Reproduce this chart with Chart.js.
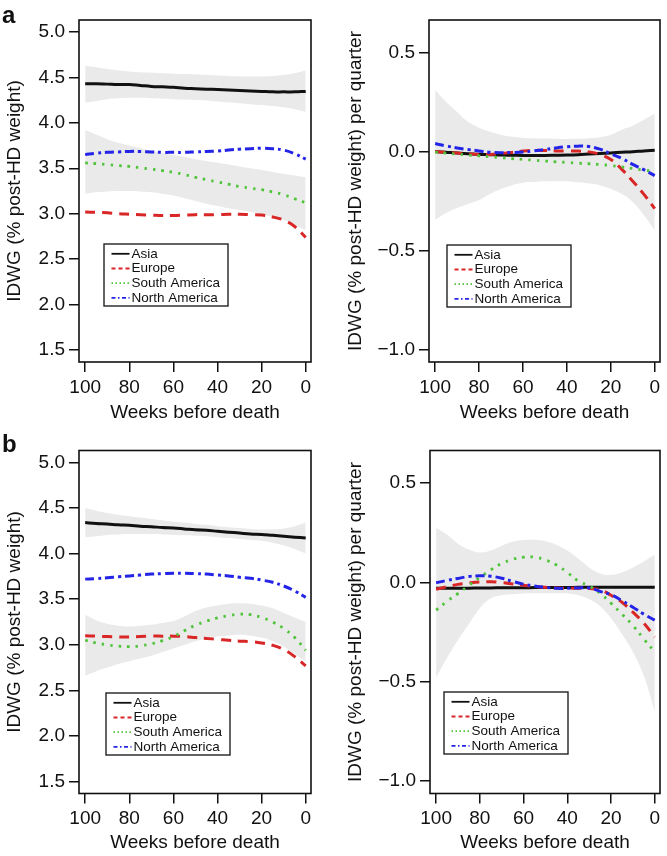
<!DOCTYPE html>
<html>
<head>
<meta charset="utf-8">
<script src="https://cdn.jsdelivr.net/npm/chart.js@4.4.1/dist/chart.umd.min.js"></script>
<style>
  body { margin: 0; background: #fff; }
  #fig { position: relative; width: 667px; height: 856px; font-family: "Liberation Sans", Arial, sans-serif; }
  #fig canvas { position: absolute; }
  .tag { position: absolute; font-weight: bold; font-size: 24px; line-height: 24px; color: #111; }
</style>
</head>
<body>
<div id="fig">
  <canvas id="aLeft" width="334" height="428" style="left:0;top:0"></canvas>
  <canvas id="aRight" width="333" height="428" style="left:334px;top:0"></canvas>
  <canvas id="bLeft" width="334" height="428" style="left:0;top:428px"></canvas>
  <canvas id="bRight" width="333" height="428" style="left:334px;top:428px"></canvas>
  <div class="tag" style="left:2px;top:3px">a</div>
  <div class="tag" style="left:2px;top:432px">b</div>
</div>
<script>
// weeks before death (x), every 5 weeks
const weeks = [100, 95, 90, 85, 80, 75, 70, 65, 60, 55, 50, 45, 40, 35, 30, 25, 20, 15, 10, 5, 0];
const xTicks = [100, 80, 60, 40, 20, 0];
const levelTicks = [1.5, 2.0, 2.5, 3.0, 3.5, 4.0, 4.5, 5.0];
const slopeTicks = [-1.0, -0.5, 0.0, 0.5];
const regions = ['Asia', 'Europe', 'South America', 'North America'];

// panel a, left: IDWG level
const aLevelAsia = [4.43, 4.43, 4.425, 4.42, 4.42, 4.41, 4.40, 4.395, 4.39, 4.38, 4.375, 4.37, 4.365, 4.36, 4.355, 4.35, 4.345, 4.34, 4.34, 4.34, 4.345];
const aLevelEurope = [3.02, 3.015, 3.01, 3.0, 2.995, 2.99, 2.985, 2.98, 2.98, 2.985, 2.99, 2.99, 2.99, 2.995, 2.995, 2.99, 2.985, 2.965, 2.93, 2.86, 2.74];
const aLevelSouth = [3.56, 3.55, 3.54, 3.53, 3.52, 3.505, 3.49, 3.475, 3.455, 3.43, 3.40, 3.375, 3.35, 3.325, 3.30, 3.28, 3.265, 3.24, 3.21, 3.165, 3.12];
const aLevelNorth = [3.65, 3.665, 3.675, 3.68, 3.685, 3.685, 3.68, 3.675, 3.675, 3.675, 3.68, 3.685, 3.69, 3.70, 3.71, 3.715, 3.72, 3.715, 3.70, 3.66, 3.60];
const aLevelAsiaHi = [4.63, 4.61, 4.59, 4.575, 4.565, 4.555, 4.55, 4.545, 4.54, 4.535, 4.53, 4.525, 4.52, 4.515, 4.51, 4.51, 4.51, 4.515, 4.525, 4.545, 4.575];
const aLevelAsiaLo = [4.22, 4.24, 4.26, 4.27, 4.275, 4.275, 4.27, 4.265, 4.26, 4.255, 4.25, 4.245, 4.235, 4.225, 4.215, 4.205, 4.195, 4.185, 4.17, 4.15, 4.12];
const aLevelSouthHi = [3.92, 3.87, 3.82, 3.78, 3.75, 3.72, 3.69, 3.665, 3.645, 3.625, 3.60, 3.58, 3.56, 3.54, 3.52, 3.50, 3.48, 3.46, 3.44, 3.42, 3.40];
const aLevelSouthLo = [3.22, 3.235, 3.245, 3.25, 3.25, 3.245, 3.235, 3.22, 3.20, 3.17, 3.14, 3.11, 3.085, 3.06, 3.04, 3.02, 2.995, 2.965, 2.93, 2.88, 2.82];

// panel a, right: change per quarter
const aSlopeAsia = [0.0, -0.004, -0.008, -0.011, -0.014, -0.016, -0.018, -0.019, -0.02, -0.02, -0.02, -0.019, -0.018, -0.016, -0.013, -0.01, -0.007, -0.004, -0.001, 0.003, 0.006];
const aSlopeEurope = [0.0, -0.004, -0.008, -0.012, -0.015, -0.015, -0.01, -0.005, 0.002, 0.006, 0.005, 0.003, 0.003, 0.002, -0.002, -0.015, -0.04, -0.09, -0.15, -0.215, -0.288];
const aSlopeSouth = [-0.003, -0.008, -0.013, -0.018, -0.022, -0.027, -0.031, -0.036, -0.04, -0.044, -0.048, -0.052, -0.055, -0.059, -0.062, -0.066, -0.071, -0.078, -0.086, -0.094, -0.1];
const aSlopeNorth = [0.04, 0.028, 0.018, 0.01, 0.003, -0.004, -0.006, -0.005, -0.003, 0.003, 0.01, 0.018, 0.024, 0.027, 0.025, 0.012, -0.012, -0.035, -0.065, -0.092, -0.122];
const aSlopeHi = [0.31, 0.25, 0.2, 0.15, 0.12, 0.1, 0.085, 0.075, 0.07, 0.067, 0.065, 0.064, 0.063, 0.064, 0.067, 0.072, 0.085, 0.11, 0.13, 0.16, 0.19];
const aSlopeLo = [-0.345, -0.31, -0.285, -0.265, -0.245, -0.215, -0.19, -0.17, -0.158, -0.153, -0.15, -0.15, -0.15, -0.155, -0.16, -0.17, -0.19, -0.215, -0.255, -0.32, -0.40];

// panel b, left: IDWG level
const bLevelAsia = [4.34, 4.33, 4.325, 4.315, 4.31, 4.30, 4.295, 4.285, 4.28, 4.27, 4.26, 4.255, 4.245, 4.235, 4.225, 4.215, 4.21, 4.20, 4.19, 4.18, 4.17];
const bLevelEurope = [3.10, 3.095, 3.09, 3.085, 3.085, 3.09, 3.095, 3.095, 3.095, 3.09, 3.08, 3.07, 3.06, 3.05, 3.04, 3.035, 3.02, 2.995, 2.95, 2.87, 2.77];
const bLevelSouth = [3.05, 3.02, 3.0, 2.985, 2.98, 2.99, 3.01, 3.045, 3.09, 3.155, 3.215, 3.26, 3.295, 3.32, 3.335, 3.33, 3.30, 3.25, 3.18, 3.08, 2.94];
const bLevelNorth = [3.72, 3.725, 3.735, 3.745, 3.755, 3.765, 3.775, 3.78, 3.785, 3.785, 3.78, 3.775, 3.765, 3.755, 3.74, 3.73, 3.71, 3.685, 3.645, 3.59, 3.52];
const bLevelAsiaHi = [4.50, 4.47, 4.445, 4.425, 4.41, 4.395, 4.38, 4.365, 4.35, 4.34, 4.325, 4.315, 4.30, 4.29, 4.28, 4.27, 4.265, 4.265, 4.275, 4.30, 4.34];
const bLevelAsiaLo = [4.18, 4.19, 4.205, 4.21, 4.215, 4.215, 4.215, 4.21, 4.205, 4.20, 4.195, 4.19, 4.18, 4.17, 4.16, 4.15, 4.14, 4.12, 4.09, 4.05, 4.00];
const bLevelSouthHi = [3.33, 3.27, 3.23, 3.21, 3.20, 3.21, 3.22, 3.24, 3.26, 3.31, 3.37, 3.41, 3.43, 3.45, 3.455, 3.45, 3.43, 3.40, 3.35, 3.30, 3.25];
const bLevelSouthLo = [2.66, 2.71, 2.75, 2.79, 2.82, 2.85, 2.88, 2.92, 2.96, 3.0, 3.04, 3.07, 3.09, 3.10, 3.11, 3.10, 3.08, 3.04, 2.98, 2.90, 2.82];

// panel b, right: change per quarter
const bSlopeAsia = [-0.03, -0.03, -0.029, -0.029, -0.028, -0.028, -0.027, -0.027, -0.027, -0.026, -0.026, -0.026, -0.026, -0.025, -0.025, -0.025, -0.025, -0.025, -0.025, -0.025, -0.025];
const bSlopeEurope = [-0.035, -0.022, -0.01, -0.003, 0.002, 0.003, -0.001, -0.008, -0.015, -0.021, -0.025, -0.028, -0.03, -0.03, -0.031, -0.037, -0.065, -0.1, -0.15, -0.205, -0.275];
const bSlopeSouth = [-0.14, -0.095, -0.056, -0.015, 0.025, 0.063, 0.095, 0.116, 0.127, 0.127, 0.113, 0.088, 0.05, 0.007, -0.018, -0.055, -0.105, -0.16, -0.217, -0.285, -0.35];
const bSlopeNorth = [-0.002, 0.01, 0.02, 0.03, 0.033, 0.031, 0.021, 0.005, -0.009, -0.018, -0.025, -0.03, -0.03, -0.028, -0.028, -0.045, -0.062, -0.092, -0.125, -0.16, -0.19];
const bSlopeHi = [0.275, 0.24, 0.195, 0.165, 0.15, 0.16, 0.185, 0.205, 0.213, 0.214, 0.207, 0.19, 0.16, 0.12, 0.075, 0.045, 0.038, 0.05, 0.075, 0.105, 0.14];
const bSlopeLo = [-0.48, -0.38, -0.29, -0.21, -0.13, -0.08, -0.065, -0.06, -0.056, -0.055, -0.055, -0.055, -0.056, -0.065, -0.085, -0.12, -0.18, -0.26, -0.35, -0.47, -0.65];

const FONT = '"Liberation Sans", Arial, sans-serif';
const INK = '#111';

// line look per region, in the same order as regions
const looks = [
  { color: '#111111', width: 3, dash: [], legendDash: [] },
  { color: '#d92626', width: 3, dash: [10, 7], legendDash: [4, 3] },
  { color: '#4fc43a', width: 2.8, dash: [2.5, 6], legendDash: [1.5, 2.5] },
  { color: '#2424e6', width: 3, dash: [9, 4, 3, 4], legendDash: [4, 2.5, 1.5, 2.5] }
];

// box round the plot region, like R's box()
const framePlugin = {
  id: 'frame',
  afterDatasetsDraw(chart) {
    const { ctx, chartArea: a } = chart;
    ctx.save();
    ctx.strokeStyle = INK;
    ctx.lineWidth = 1.6;
    ctx.strokeRect(a.left, a.top, a.right - a.left, a.bottom - a.top);
    ctx.restore();
  }
};

// boxed legend inside the plot
const boxLegend = {
  id: 'boxLegend',
  afterDraw(chart, args, o) {
    const ctx = chart.ctx;
    ctx.save();
    ctx.strokeStyle = '#222';
    ctx.lineWidth = 1.4;
    ctx.strokeRect(o.x, o.y, o.w, o.h);
    ctx.font = '13.5px ' + FONT;
    ctx.textBaseline = 'middle';
    chart.data.datasets.filter(d => !d.band).forEach((d, i) => {
      const y = o.y + 9.8 + i * 14.7;
      ctx.strokeStyle = d.borderColor;
      ctx.lineWidth = 1.8;
      ctx.setLineDash(d.legendDash);
      ctx.beginPath();
      ctx.moveTo(o.x + 7.5, y);
      ctx.lineTo(o.x + 25.5, y);
      ctx.stroke();
      ctx.setLineDash([]);
      ctx.fillStyle = INK;
      ctx.fillText(d.label, o.x + 27.5, y);
    });
    ctx.restore();
  }
};

function fmt(v) {
  return (v < 0 ? '\u2212' : '') + Math.abs(v).toFixed(1);
}

function points(ys) {
  return weeks.map((w, i) => ({ x: w, y: ys[i] }));
}

function makePanel(id, p) {
  // Asia drawn first, North America last (on top), as in the original plot
  const datasets = p.series.map((ys, i) => ({
    label: regions[i],
    data: points(ys),
    order: regions.length - i,
    borderColor: looks[i].color,
    borderWidth: looks[i].width,
    borderDash: looks[i].dash,
    legendDash: looks[i].legendDash,
    pointRadius: 0,
    tension: 0.4,
    fill: false
  }));
  p.bands.forEach(([hi, lo]) => {
    datasets.push({ band: true, label: '', order: 10, data: points(hi), borderWidth: 0, pointRadius: 0, tension: 0.4, backgroundColor: '#eaeaea', fill: '+1' });
    datasets.push({ band: true, label: '', order: 10, data: points(lo), borderWidth: 0, pointRadius: 0, tension: 0.4, fill: false });
  });

  const g = p.geo;
  const tickFont = { family: FONT, size: 19 };
  new Chart(document.getElementById(id), {
    type: 'line',
    data: { datasets },
    options: {
      responsive: false,
      animation: false,
      events: [],
      layout: { padding: { left: 0, top: g.top, right: g.right, bottom: 0 } },
      scales: {
        x: {
          type: 'linear',
          reverse: true,
          min: -2.4,
          max: 102.8,
          afterBuildTicks: s => { s.ticks = xTicks.map(v => ({ value: v })); },
          afterFit: s => { s.height = g.xh; },
          border: { display: false },
          grid: { drawOnChartArea: false, tickLength: 10, color: INK, lineWidth: 1.5 },
          ticks: { font: tickFont, color: INK, padding: 4, maxRotation: 0, autoSkip: false, callback: v => String(v) },
          title: { display: true, text: 'Weeks before death', font: tickFont, color: INK, padding: { top: 0, bottom: g.xtp } }
        },
        y: {
          type: 'linear',
          min: p.yMin,
          max: p.yMax,
          afterBuildTicks: s => { s.ticks = p.yTicks.map(v => ({ value: v })); },
          afterFit: s => { s.width = g.left; },
          border: { display: false },
          grid: { drawOnChartArea: false, tickLength: 10, color: INK, lineWidth: 1.5 },
          ticks: { font: tickFont, color: INK, padding: 4, autoSkip: false, callback: fmt },
          title: { display: true, text: p.yTitle, font: tickFont, color: INK, padding: { top: g.ytp, bottom: 0 } }
        }
      },
      plugins: {
        legend: { display: false },
        tooltip: { enabled: false },
        filler: { drawTime: 'beforeDatasetsDraw' },
        boxLegend: p.legend
      }
    },
    plugins: [framePlugin, boxLegend]
  });
}

const levelTitle = 'IDWG (% post-HD weight)';
const slopeTitle = 'IDWG (% post-HD weight) per quarter';

makePanel('aLeft', {
  series: [aLevelAsia, aLevelEurope, aLevelSouth, aLevelNorth],
  bands: [[aLevelAsiaHi, aLevelAsiaLo], [aLevelSouthHi, aLevelSouthLo]],
  yMin: 1.37, yMax: 5.13, yTicks: levelTicks, yTitle: levelTitle,
  geo: { left: 79, top: 20, right: 23, xh: 66, ytp: 3, xtp: 4 },
  legend: { x: 104, y: 244, w: 124, h: 62 }
});
makePanel('aRight', {
  series: [aSlopeAsia, aSlopeEurope, aSlopeSouth, aSlopeNorth],
  bands: [[aSlopeHi, aSlopeLo]],
  yMin: -1.063, yMax: 0.664, yTicks: slopeTicks, yTitle: slopeTitle,
  geo: { left: 95, top: 20, right: 7, xh: 66, ytp: 10, xtp: 4 },
  legend: { x: 113, y: 245, w: 124, h: 62 }
});
makePanel('bLeft', {
  series: [bLevelAsia, bLevelEurope, bLevelSouth, bLevelNorth],
  bands: [[bLevelAsiaHi, bLevelAsiaLo], [bLevelSouthHi, bLevelSouthLo]],
  yMin: 1.37, yMax: 5.13, yTicks: levelTicks, yTitle: levelTitle,
  geo: { left: 79, top: 22.5, right: 23, xh: 62.5, ytp: 3, xtp: 2 },
  legend: { x: 106, y: 265, w: 124, h: 62 }
});
makePanel('bRight', {
  series: [bSlopeAsia, bSlopeEurope, bSlopeSouth, bSlopeNorth],
  bands: [[bSlopeHi, bSlopeLo]],
  yMin: -1.063, yMax: 0.664, yTicks: slopeTicks, yTitle: slopeTitle,
  geo: { left: 96, top: 22.5, right: 7, xh: 62.5, ytp: 10, xtp: 2 },
  legend: { x: 110, y: 264, w: 124, h: 62 }
});
</script>
</body>
</html>
